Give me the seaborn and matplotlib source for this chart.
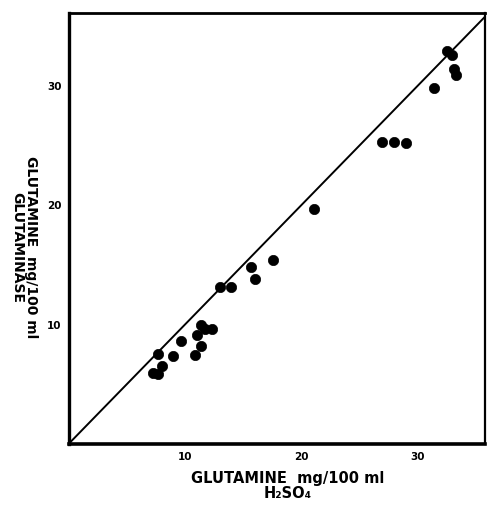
import matplotlib
matplotlib.use("Agg")
import matplotlib.pyplot as plt
import seaborn as sns
import pandas as pd

# Glutamine (mg/100 ml) by H2SO4 hydrolysis vs. by glutaminase
h2so4 = [32.5, 33.0, 33.1, 33.3, 31.4, 26.95, 28.0, 29.0, 21.1, 17.6,
         15.7, 16.0, 13.05, 14.0, 11.4, 11.75, 12.3, 11.07, 9.7, 11.4,
         8.94, 10.9, 7.68, 8.02, 7.22, 7.68]
glutaminase = [32.9, 32.6, 31.4, 30.9, 29.8, 25.3, 25.3, 25.2, 19.7, 15.4,
               14.8, 13.8, 13.15, 13.15, 9.94, 9.6, 9.64, 9.14, 8.6, 8.2,
               7.35, 7.47, 7.58, 6.57, 5.96, 5.85]
tick_values = [10, 20, 30]

df = pd.DataFrame({"h2so4": h2so4, "glutaminase": glutaminase})

sns.set_style("white")
plt.rcParams["font.family"] = ["DejaVu Sans"]
plt.rcParams["font.weight"] = "bold"
plt.rcParams["text.color"] = "black"
plt.rcParams["axes.labelcolor"] = "black"

fig = plt.figure(figsize=(4.87, 5.05), dpi=100)
ax = fig.add_axes([0.1407, 0.1208, 0.8552, 0.8532])

sns.scatterplot(ax=ax, data=df, x="h2so4", y="glutaminase",
                color="black", s=55, edgecolor="black", linewidth=0.5)

# line of identity
ax.axline((0, 0), slope=1, color="black", linewidth=1.4)

ax.set_xlim(0, 35.8)
ax.set_ylim(0, 36.1)
ax.set_xticks(tick_values)
ax.set_yticks(tick_values)
ax.tick_params(axis="x", direction="in", length=4, width=1.2, labelsize=7.5, pad=6, colors="black")
ax.tick_params(axis="y", direction="out", length=4, width=1.2, labelsize=7.5, pad=1, colors="black")
for lbl in ax.get_xticklabels() + ax.get_yticklabels():
    lbl.set_fontweight("heavy")

for side in ["left", "bottom", "top", "right"]:
    ax.spines[side].set_visible(True)
    ax.spines[side].set_color("black")
ax.spines["left"].set_linewidth(2.4)
ax.spines["bottom"].set_linewidth(2.6)
ax.spines["top"].set_linewidth(2.0)
ax.spines["right"].set_linewidth(1.6)

ax.set_xlabel("GLUTAMINE  mg/100 ml\nH\u2082SO\u2084", fontsize=10.5,
              fontweight="heavy", linespacing=1.0, color="black")
ax.xaxis.set_label_coords(0.527, -0.062)
ax.set_ylabel("GLUTAMINE  mg/100 ml\nGLUTAMINASE", fontsize=10,
              fontweight="heavy", rotation=270, linespacing=0.95,
              ha="center", va="center", color="black")
ax.yaxis.set_label_coords(-0.107, 0.457)

fig.savefig("out.png", dpi=100)
